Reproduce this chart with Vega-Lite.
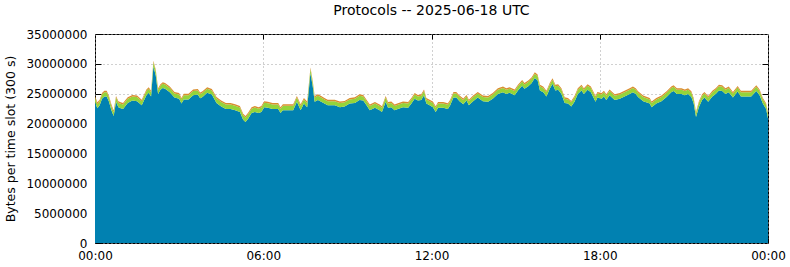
{
"$schema": "https://vega.github.io/schema/vega-lite/v6.json",
"width": 673, "height": 209,
"autosize": "none",
"padding": {"left": 95, "top": 34, "right": 22, "bottom": 24},
"background": "white",
"title": {"text": "Protocols -- 2025-06-18 UTC", "font": "DejaVu Sans", "fontSize": 14, "fontWeight": "normal", "color": "black", "anchor": "middle", "offset": 10},
"config": {
  "view": {"stroke": "black", "strokeWidth": 1},
  "axis": {"labelFont": "DejaVu Sans", "labelFontSize": 12, "labelColor": "black", "tickColor": "black", "domain": false, "gridColor": "#a0a0a0", "gridDash": [1, 3], "gridWidth": 1, "titleFont": "DejaVu Sans", "titleFontWeight": "normal", "titleColor": "black", "labelFlush": false, "labelOverlap": false, "labelBound": false}
},
"data": {"values": [
{"t":0,"TCP":23650000,"UDP":720000,"other":250000},
{"t":5,"TCP":22550000,"UDP":700000,"other":300000},
{"t":10,"TCP":23050000,"UDP":700000,"other":250000},
{"t":15,"TCP":24150000,"UDP":700000,"other":250000},
{"t":20,"TCP":24550000,"UDP":700000,"other":250000},
{"t":25,"TCP":24550000,"UDP":700000,"other":250000},
{"t":30,"TCP":23650000,"UDP":700000,"other":250000},
{"t":35,"TCP":22250000,"UDP":650000,"other":350000},
{"t":40,"TCP":21250000,"UDP":650000,"other":300000},
{"t":45,"TCP":23650000,"UDP":700000,"other":250000},
{"t":50,"TCP":22750000,"UDP":750000,"other":250000},
{"t":55,"TCP":22550000,"UDP":750000,"other":250000},
{"t":60,"TCP":22450000,"UDP":750000,"other":250000},
{"t":70,"TCP":23450000,"UDP":700000,"other":250000},
{"t":80,"TCP":23850000,"UDP":700000,"other":250000},
{"t":90,"TCP":23750000,"UDP":700000,"other":250000},
{"t":100,"TCP":23050000,"UDP":700000,"other":250000},
{"t":110,"TCP":24750000,"UDP":700000,"other":250000},
{"t":115,"TCP":25150000,"UDP":700000,"other":250000},
{"t":120,"TCP":24550000,"UDP":700000,"other":250000},
{"t":125,"TCP":29550000,"UDP":700000,"other":250000},
{"t":130,"TCP":28050000,"UDP":700000,"other":250000},
{"t":135,"TCP":24950000,"UDP":700000,"other":250000},
{"t":140,"TCP":25650000,"UDP":700000,"other":250000},
{"t":145,"TCP":25950000,"UDP":700000,"other":250000},
{"t":150,"TCP":25850000,"UDP":700000,"other":250000},
{"t":160,"TCP":25250000,"UDP":700000,"other":250000},
{"t":170,"TCP":24350000,"UDP":700000,"other":250000},
{"t":180,"TCP":24150000,"UDP":700000,"other":250000},
{"t":185,"TCP":23350000,"UDP":700000,"other":250000},
{"t":190,"TCP":24050000,"UDP":700000,"other":250000},
{"t":200,"TCP":24050000,"UDP":700000,"other":250000},
{"t":210,"TCP":24750000,"UDP":700000,"other":250000},
{"t":220,"TCP":24850000,"UDP":700000,"other":250000},
{"t":225,"TCP":24250000,"UDP":700000,"other":250000},
{"t":230,"TCP":24450000,"UDP":700000,"other":250000},
{"t":240,"TCP":25150000,"UDP":700000,"other":250000},
{"t":250,"TCP":24850000,"UDP":700000,"other":250000},
{"t":255,"TCP":24150000,"UDP":700000,"other":250000},
{"t":260,"TCP":23450000,"UDP":750000,"other":250000},
{"t":270,"TCP":22850000,"UDP":750000,"other":250000},
{"t":280,"TCP":22450000,"UDP":750000,"other":250000},
{"t":290,"TCP":22450000,"UDP":750000,"other":250000},
{"t":300,"TCP":22250000,"UDP":750000,"other":250000},
{"t":310,"TCP":21950000,"UDP":750000,"other":250000},
{"t":317,"TCP":20650000,"UDP":750000,"other":250000},
{"t":322,"TCP":20250000,"UDP":750000,"other":250000},
{"t":328,"TCP":20850000,"UDP":750000,"other":250000},
{"t":335,"TCP":21750000,"UDP":750000,"other":250000},
{"t":342,"TCP":21950000,"UDP":750000,"other":250000},
{"t":350,"TCP":21750000,"UDP":750000,"other":250000},
{"t":356,"TCP":21950000,"UDP":750000,"other":250000},
{"t":362,"TCP":22750000,"UDP":750000,"other":250000},
{"t":370,"TCP":22650000,"UDP":750000,"other":250000},
{"t":380,"TCP":22450000,"UDP":750000,"other":250000},
{"t":392,"TCP":22450000,"UDP":750000,"other":250000},
{"t":397,"TCP":21750000,"UDP":750000,"other":250000},
{"t":402,"TCP":22250000,"UDP":750000,"other":250000},
{"t":413,"TCP":22250000,"UDP":750000,"other":250000},
{"t":424,"TCP":22250000,"UDP":750000,"other":250000},
{"t":432,"TCP":23650000,"UDP":700000,"other":250000},
{"t":440,"TCP":22250000,"UDP":750000,"other":250000},
{"t":447,"TCP":23350000,"UDP":700000,"other":250000},
{"t":454,"TCP":22750000,"UDP":700000,"other":250000},
{"t":461,"TCP":28450000,"UDP":700000,"other":250000},
{"t":466,"TCP":26150000,"UDP":700000,"other":250000},
{"t":470,"TCP":23650000,"UDP":700000,"other":250000},
{"t":477,"TCP":23950000,"UDP":700000,"other":250000},
{"t":484,"TCP":23650000,"UDP":700000,"other":250000},
{"t":491,"TCP":23350000,"UDP":700000,"other":250000},
{"t":498,"TCP":23050000,"UDP":700000,"other":250000},
{"t":513,"TCP":23050000,"UDP":700000,"other":250000},
{"t":524,"TCP":22750000,"UDP":700000,"other":250000},
{"t":534,"TCP":22850000,"UDP":700000,"other":250000},
{"t":545,"TCP":23350000,"UDP":700000,"other":250000},
{"t":556,"TCP":23450000,"UDP":700000,"other":250000},
{"t":566,"TCP":23950000,"UDP":700000,"other":250000},
{"t":574,"TCP":23850000,"UDP":700000,"other":250000},
{"t":581,"TCP":23050000,"UDP":700000,"other":250000},
{"t":588,"TCP":22250000,"UDP":700000,"other":250000},
{"t":599,"TCP":22650000,"UDP":700000,"other":250000},
{"t":609,"TCP":22250000,"UDP":700000,"other":250000},
{"t":614,"TCP":21950000,"UDP":700000,"other":250000},
{"t":622,"TCP":23650000,"UDP":700000,"other":250000},
{"t":627,"TCP":22650000,"UDP":700000,"other":250000},
{"t":634,"TCP":22750000,"UDP":700000,"other":250000},
{"t":641,"TCP":22250000,"UDP":700000,"other":250000},
{"t":648,"TCP":22450000,"UDP":700000,"other":250000},
{"t":659,"TCP":22750000,"UDP":700000,"other":250000},
{"t":670,"TCP":22650000,"UDP":700000,"other":250000},
{"t":677,"TCP":23350000,"UDP":700000,"other":250000},
{"t":684,"TCP":24150000,"UDP":700000,"other":250000},
{"t":691,"TCP":23850000,"UDP":700000,"other":250000},
{"t":698,"TCP":23950000,"UDP":700000,"other":250000},
{"t":704,"TCP":24750000,"UDP":700000,"other":250000},
{"t":709,"TCP":23350000,"UDP":700000,"other":250000},
{"t":716,"TCP":23050000,"UDP":700000,"other":250000},
{"t":723,"TCP":22750000,"UDP":700000,"other":250000},
{"t":729,"TCP":21950000,"UDP":700000,"other":250000},
{"t":734,"TCP":22650000,"UDP":700000,"other":250000},
{"t":745,"TCP":22650000,"UDP":700000,"other":250000},
{"t":755,"TCP":22450000,"UDP":700000,"other":250000},
{"t":760,"TCP":23050000,"UDP":700000,"other":250000},
{"t":767,"TCP":24350000,"UDP":700000,"other":250000},
{"t":773,"TCP":24350000,"UDP":700000,"other":250000},
{"t":780,"TCP":23750000,"UDP":700000,"other":250000},
{"t":788,"TCP":23250000,"UDP":700000,"other":250000},
{"t":795,"TCP":23850000,"UDP":700000,"other":250000},
{"t":800,"TCP":23050000,"UDP":700000,"other":250000},
{"t":809,"TCP":23750000,"UDP":700000,"other":250000},
{"t":819,"TCP":24350000,"UDP":700000,"other":250000},
{"t":830,"TCP":23750000,"UDP":700000,"other":250000},
{"t":841,"TCP":23650000,"UDP":700000,"other":250000},
{"t":851,"TCP":24150000,"UDP":700000,"other":250000},
{"t":862,"TCP":24950000,"UDP":700000,"other":250000},
{"t":873,"TCP":25250000,"UDP":700000,"other":250000},
{"t":880,"TCP":24950000,"UDP":700000,"other":250000},
{"t":887,"TCP":25150000,"UDP":700000,"other":250000},
{"t":898,"TCP":24750000,"UDP":700000,"other":250000},
{"t":905,"TCP":25550000,"UDP":700000,"other":250000},
{"t":914,"TCP":26350000,"UDP":700000,"other":250000},
{"t":919,"TCP":25850000,"UDP":700000,"other":250000},
{"t":927,"TCP":26250000,"UDP":700000,"other":250000},
{"t":934,"TCP":26750000,"UDP":700000,"other":250000},
{"t":941,"TCP":27650000,"UDP":700000,"other":250000},
{"t":947,"TCP":27250000,"UDP":700000,"other":250000},
{"t":952,"TCP":25550000,"UDP":700000,"other":250000},
{"t":959,"TCP":25250000,"UDP":700000,"other":250000},
{"t":966,"TCP":24550000,"UDP":700000,"other":250000},
{"t":973,"TCP":25850000,"UDP":700000,"other":250000},
{"t":979,"TCP":26650000,"UDP":700000,"other":250000},
{"t":985,"TCP":25550000,"UDP":700000,"other":250000},
{"t":991,"TCP":25650000,"UDP":700000,"other":250000},
{"t":998,"TCP":24950000,"UDP":700000,"other":250000},
{"t":1005,"TCP":23450000,"UDP":700000,"other":250000},
{"t":1012,"TCP":23350000,"UDP":700000,"other":250000},
{"t":1019,"TCP":22850000,"UDP":700000,"other":250000},
{"t":1026,"TCP":23650000,"UDP":700000,"other":250000},
{"t":1033,"TCP":24950000,"UDP":700000,"other":250000},
{"t":1041,"TCP":25550000,"UDP":700000,"other":250000},
{"t":1046,"TCP":24950000,"UDP":700000,"other":250000},
{"t":1054,"TCP":25650000,"UDP":700000,"other":250000},
{"t":1061,"TCP":25250000,"UDP":700000,"other":250000},
{"t":1066,"TCP":24450000,"UDP":700000,"other":250000},
{"t":1071,"TCP":23650000,"UDP":700000,"other":250000},
{"t":1075,"TCP":24350000,"UDP":700000,"other":250000},
{"t":1084,"TCP":24150000,"UDP":700000,"other":250000},
{"t":1089,"TCP":24550000,"UDP":700000,"other":250000},
{"t":1094,"TCP":23950000,"UDP":700000,"other":250000},
{"t":1101,"TCP":24750000,"UDP":700000,"other":250000},
{"t":1112,"TCP":23950000,"UDP":700000,"other":250000},
{"t":1123,"TCP":24150000,"UDP":700000,"other":250000},
{"t":1133,"TCP":24550000,"UDP":700000,"other":250000},
{"t":1144,"TCP":24950000,"UDP":700000,"other":250000},
{"t":1151,"TCP":25250000,"UDP":700000,"other":250000},
{"t":1157,"TCP":24950000,"UDP":700000,"other":250000},
{"t":1162,"TCP":24450000,"UDP":700000,"other":250000},
{"t":1173,"TCP":23750000,"UDP":700000,"other":250000},
{"t":1187,"TCP":23350000,"UDP":700000,"other":250000},
{"t":1191,"TCP":22750000,"UDP":700000,"other":250000},
{"t":1201,"TCP":23350000,"UDP":700000,"other":250000},
{"t":1212,"TCP":23750000,"UDP":700000,"other":250000},
{"t":1223,"TCP":24450000,"UDP":700000,"other":250000},
{"t":1233,"TCP":25250000,"UDP":700000,"other":250000},
{"t":1238,"TCP":25450000,"UDP":700000,"other":250000},
{"t":1245,"TCP":24950000,"UDP":700000,"other":250000},
{"t":1255,"TCP":24950000,"UDP":700000,"other":250000},
{"t":1262,"TCP":24750000,"UDP":700000,"other":250000},
{"t":1269,"TCP":24950000,"UDP":700000,"other":250000},
{"t":1276,"TCP":24450000,"UDP":700000,"other":250000},
{"t":1281,"TCP":23350000,"UDP":700000,"other":250000},
{"t":1286,"TCP":21100000,"UDP":650000,"other":250000},
{"t":1292,"TCP":22750000,"UDP":700000,"other":250000},
{"t":1299,"TCP":23950000,"UDP":700000,"other":250000},
{"t":1304,"TCP":24350000,"UDP":700000,"other":250000},
{"t":1312,"TCP":23650000,"UDP":700000,"other":250000},
{"t":1321,"TCP":24550000,"UDP":700000,"other":250000},
{"t":1328,"TCP":24950000,"UDP":700000,"other":250000},
{"t":1335,"TCP":25550000,"UDP":700000,"other":250000},
{"t":1342,"TCP":25450000,"UDP":700000,"other":250000},
{"t":1349,"TCP":24950000,"UDP":700000,"other":250000},
{"t":1356,"TCP":25250000,"UDP":700000,"other":250000},
{"t":1365,"TCP":24350000,"UDP":700000,"other":250000},
{"t":1375,"TCP":25350000,"UDP":700000,"other":250000},
{"t":1382,"TCP":24550000,"UDP":700000,"other":250000},
{"t":1390,"TCP":24550000,"UDP":700000,"other":250000},
{"t":1397,"TCP":24550000,"UDP":700000,"other":250000},
{"t":1404,"TCP":24550000,"UDP":700000,"other":250000},
{"t":1415,"TCP":25450000,"UDP":700000,"other":250000},
{"t":1422,"TCP":24750000,"UDP":700000,"other":250000},
{"t":1429,"TCP":23350000,"UDP":700000,"other":250000},
{"t":1436,"TCP":22450000,"UDP":700000,"other":250000},
{"t":1440,"TCP":20850000,"UDP":700000,"other":250000}
]},
"transform": [{"fold": ["TCP", "UDP", "other"], "as": ["proto", "bytes"]}],
"resolve": {"axis": {"x": "independent", "y": "independent"}},
"layer": [
  {
    "mark": {"type": "area", "interpolate": "linear"},
    "encoding": {
      "x": {"field": "t", "type": "quantitative", "scale": {"domain": [0, 1440], "nice": false, "zero": false},
            "axis": {"orient": "bottom", "title": null, "values": [0, 360, 720, 1080, 1440], "grid": true, "tickSize": -5, "labelPadding": 12,
                     "labelExpr": "(floor(datum.value/60)%24<10?'0':'')+(floor(datum.value/60)%24)+':00'"}},
      "y": {"field": "bytes", "type": "quantitative", "stack": "zero", "scale": {"domain": [0, 35000000], "nice": false},
            "axis": {"orient": "left", "title": "Bytes per time slot (300 s)", "titleFontSize": 12.5, "titlePadding": 8, "values": [0, 5000000, 10000000, 15000000, 20000000, 25000000, 30000000, 35000000], "format": "d", "grid": true, "tickSize": -6, "labelPadding": 14}},
      "color": {"field": "proto", "type": "nominal", "scale": {"domain": ["TCP", "UDP", "other"], "range": ["#0181b1", "#94d43a", "#d98e2e"]}, "legend": null},
      "order": {"field": "proto", "sort": "ascending"}
    }
  },
  {
    "mark": {"type": "line", "opacity": 0},
    "encoding": {
      "x": {"field": "t", "type": "quantitative", "scale": {"domain": [0, 1440], "nice": false, "zero": false},
            "axis": {"orient": "top", "title": null, "values": [360, 720, 1080], "grid": false, "labels": false, "tickSize": -5}},
      "y": {"field": "bytes", "type": "quantitative", "scale": {"domain": [0, 35000000], "nice": false},
            "axis": {"orient": "right", "title": null, "values": [5000000, 10000000, 15000000, 20000000, 25000000, 30000000], "grid": false, "labels": false, "tickSize": -6}},
      "detail": {"field": "proto"}
    }
  }
]
}
